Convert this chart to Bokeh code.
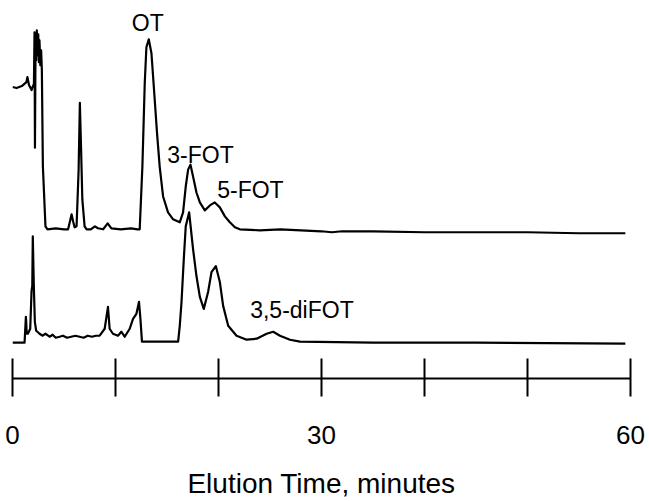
from bokeh.plotting import figure
from bokeh.models import Range1d, LinearAxis, FixedTicker, ColumnDataSource
from bokeh.core.properties import value
from bokeh.embed import file_html
from bokeh.resources import INLINE

# ---- data (time in minutes, detector signal in arbitrary units above each trace's baseline)
top_t = [0.0, 0.4, 0.9, 1.35, 1.45, 1.6, 1.85, 1.95, 2.08, 2.14, 2.18, 2.24, 2.3, 2.36, 2.42, 2.5, 2.56, 2.62, 2.7, 2.78, 2.85, 2.95, 3.2, 3.4,
         4.2, 5.0, 5.4, 5.74, 5.88, 6.03, 6.22, 6.42, 6.54, 6.66, 6.78, 7.0, 7.2, 7.6, 8.0, 8.3, 8.8, 9.24, 9.6, 10.5, 11.5, 12.16,
         12.35, 12.61, 12.84, 13.0, 13.23, 13.49, 13.81, 14.03, 14.29, 14.62, 15.1, 15.59, 16.24, 16.56, 16.82, 17.05, 17.28, 17.53,
         17.86, 18.19, 18.67, 19.16, 19.64, 20.13, 20.62, 21.1, 21.59, 22.07,
         24, 26, 30, 31, 32, 35, 40, 45, 50, 55, 59.5]
top_v = [143, 142, 144, 148, 153, 145, 140, 143, 146, 198, 82, 195, 170, 200, 175, 196, 168, 190, 165, 180, 160, 63, 3, 0,
         1, 0, 0, 15, 8, 2, 3, 60, 127, 80, 30, 3, 0, 0, 3, 1, 0, 6, 1, 0, 1, 0,
         0, 63, 147, 183, 191, 177, 130, 97, 63, 33, 17, 10, 7, 17, 43, 60, 65, 53,
         37, 27, 19, 24, 27, 22, 13, 7, 2, 0,
         -1, 0, -2, -3, -2, -2, -3, -3, -3, -4, -4]

bot_t = [0.0, 1.17, 1.3, 1.33, 1.38, 1.49, 1.72, 1.85, 1.92, 1.97, 2.07, 2.17, 2.3, 2.63, 2.9, 3.2, 3.6, 3.9, 4.2, 4.57,
         4.9, 5.3, 5.7, 6.1, 6.52, 6.9, 7.3, 7.7, 8.1, 8.46, 8.95, 9.27, 9.43, 9.75, 10.0, 10.24, 10.57, 10.89, 11.38, 11.7,
         12.03, 12.28, 12.42, 12.57, 14.0, 16.08, 16.24, 16.41, 16.63, 16.82, 17.15, 17.53, 17.86, 18.19, 18.57, 18.99, 19.32,
         19.74, 20.13, 20.45, 20.94, 21.75, 22.73, 23.7, 24.67, 25.31, 25.97, 26.94, 27.91, 35, 45, 59.5]
bot_v = [-1, -1, 25, 20, 8, 8, 13, 51, 56, 106, 56, 20, 11, 8, 6, 8, 5, 7, 4, 5,
         6, 4, 5, 6, 5, 4, 6, 5, 6, 6, 13, 35, 13, 8, 7, 6, 10, 5, 13, 23,
         28, 40, 23, 0, 0, 0, 16, 40, 83, 116, 130, 93, 66, 45, 33, 50, 70,
         76, 60, 36, 16, 6, 2, 3, 8, 10, 6, 2, 0, -1, -1, -2]

peak_labels = ["OT", "3-FOT", "5-FOT", "3,5-diFOT"]
peak_label_t = [13.13, 18.25, 23.1, 28.1]
peak_label_y = [357, 225, 189, 69]

tick_values = [0, 10, 20, 30, 40, 50, 60]
tick_labels = {0: "0", 10: "", 20: "", 30: "30", 40: "", 50: "", 60: "60"}
x_title = "Elution Time, minutes"

# vertical offsets that stack the two chromatograms
top_offset = 150
bot_offset = 37

FONT = "Liberation Sans"

p = figure(width=649, height=501, output_backend="svg", toolbar_location=None,
           x_range=Range1d(0, 60), y_range=Range1d(0, 380),
           x_axis_location=None, y_axis_location=None,
           min_border_left=12, min_border_right=19, min_border_top=0, min_border_bottom=121)
p.outline_line_color = None
p.grid.visible = False
p.background_fill_color = "white"
p.border_fill_color = "white"

top_src = ColumnDataSource(dict(t=top_t, y=[v + top_offset for v in top_v]))
bot_src = ColumnDataSource(dict(t=bot_t, y=[v + bot_offset for v in bot_v]))
p.line("t", "y", source=top_src, line_color="black", line_width=2.2, line_join="round")
p.line("t", "y", source=bot_src, line_color="black", line_width=2.2, line_join="round")

p.text(x=peak_label_t, y=peak_label_y, text=peak_labels,
       text_font=value(FONT), text_font_size="23px", text_color="black",
       text_align="center", text_baseline="middle")

ax = LinearAxis(ticker=FixedTicker(ticks=tick_values), major_label_overrides=tick_labels,
                axis_label=x_title)
ax.axis_line_width = 2
ax.axis_line_color = "black"
ax.major_tick_line_width = 2
ax.major_tick_line_color = "black"
ax.major_tick_in = 20
ax.major_tick_out = 18
ax.minor_tick_line_color = None
ax.major_label_text_font = FONT
ax.major_label_text_font_size = "26px"
ax.major_label_text_color = "black"
ax.major_label_standoff = 29
ax.axis_label_text_font = FONT
ax.axis_label_text_font_size = "28px"
ax.axis_label_text_font_style = "normal"
ax.axis_label_text_color = "black"
ax.axis_label_standoff = 21
p.add_layout(ax, "below")

open("out.html", "w").write(file_html(p, INLINE))
